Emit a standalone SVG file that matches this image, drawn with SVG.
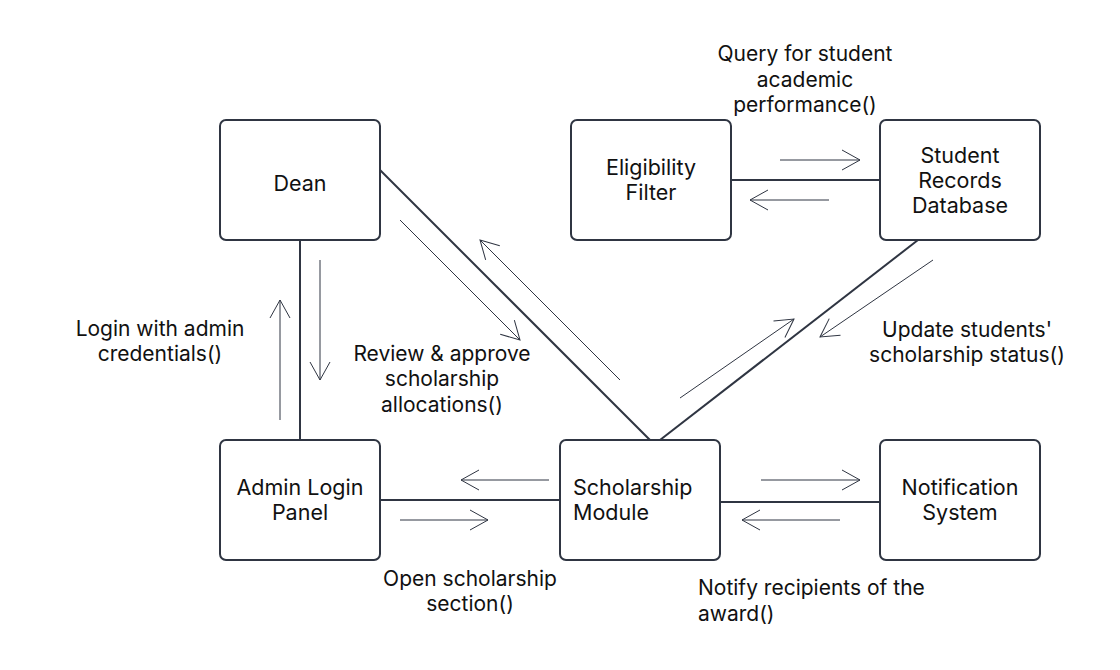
<svg xmlns="http://www.w3.org/2000/svg" width="1120" height="670" viewBox="0 0 1120 670">
<style>
.node rect{fill:#fff;stroke:#2f3542;stroke-width:2}
.nt{font-family:Inter,"Liberation Sans",sans-serif;font-size:21.5px;fill:#111;text-anchor:middle}
.lb{font-family:Inter,"Liberation Sans",sans-serif;font-size:21px;fill:#111;text-anchor:middle}
.conn{stroke:#2f3542;stroke-width:2;fill:none}
.arr{stroke:#2f3542;stroke-width:1;fill:none;marker-end:url(#ah)}
</style>
<defs>
<marker id="ah" markerUnits="userSpaceOnUse" markerWidth="20" markerHeight="22" viewBox="0 0 20 22" refX="19" refY="11" orient="auto">
<path d="M1,1 L19,11 L1,21" fill="none" stroke="#2f3542" stroke-width="1"/>
</marker>
</defs>
<rect width="1120" height="670" fill="#fff"/>
<g id="connectors">
<line class="conn" x1="300" y1="240" x2="300" y2="440"/>
<line class="arr" x1="280" y1="420" x2="280" y2="300"/>
<line class="arr" x1="320" y1="260" x2="320" y2="380"/>
<line class="conn" x1="380" y1="170" x2="650" y2="440"/>
<line class="arr" x1="400" y1="220" x2="520" y2="340"/>
<line class="arr" x1="620" y1="380" x2="480" y2="240"/>
<line class="conn" x1="660" y1="440" x2="918" y2="240"/>
<line class="arr" x1="680" y1="398" x2="794" y2="319"/>
<line class="arr" x1="933" y1="260" x2="820" y2="337"/>
<line class="conn" x1="731" y1="180" x2="880" y2="180"/>
<line class="arr" x1="780" y1="160" x2="860" y2="160"/>
<line class="arr" x1="829" y1="200" x2="750" y2="200"/>
<line class="conn" x1="380" y1="500" x2="560" y2="500"/>
<line class="arr" x1="549" y1="480" x2="461" y2="480"/>
<line class="arr" x1="400" y1="520" x2="488" y2="520"/>
<line class="conn" x1="720" y1="502" x2="880" y2="502"/>
<line class="arr" x1="761" y1="480" x2="860" y2="480"/>
<line class="arr" x1="840" y1="520" x2="742" y2="520"/>
</g>
<g id="dean" class="node"><rect x="220" y="120" width="160" height="120" rx="6"/><text class="nt" x="300" y="191">Dean</text></g>
<g id="eligibility" class="node"><rect x="571" y="120" width="160" height="120" rx="6"/><text class="nt" x="651" y="175">Eligibility</text><text class="nt" x="651" y="200">Filter</text></g>
<g id="records" class="node"><rect x="880" y="120" width="160" height="120" rx="6"/><text class="nt" x="960" y="163">Student</text><text class="nt" x="960" y="188">Records</text><text class="nt" x="960" y="213">Database</text></g>
<g id="admin" class="node"><rect x="220" y="440" width="160" height="120" rx="6"/><text class="nt" x="300" y="495">Admin Login</text><text class="nt" x="300" y="520">Panel</text></g>
<g id="scholarship" class="node"><rect x="560" y="440" width="160" height="120" rx="6"/><text class="nt" x="573" y="495" style="text-anchor:start">Scholarship</text><text class="nt" x="573" y="520" style="text-anchor:start">Module</text></g>
<g id="notification" class="node"><rect x="880" y="440" width="160" height="120" rx="6"/><text class="nt" x="960" y="495">Notification</text><text class="nt" x="960" y="520">System</text></g>
<g id="labels">
<text class="lb" x="805" y="61">Query for student</text>
<text class="lb" x="805" y="87">academic</text>
<text class="lb" x="805" y="112">performance()</text>
<text class="lb" x="160" y="336">Login with admin</text>
<text class="lb" x="160" y="361">credentials()</text>
<text class="lb" x="442" y="361">Review &amp; approve</text>
<text class="lb" x="442" y="386">scholarship</text>
<text class="lb" x="442" y="412">allocations()</text>
<text class="lb" x="967" y="337">Update students'</text>
<text class="lb" x="967" y="362">scholarship status()</text>
<text class="lb" x="470" y="586">Open scholarship</text>
<text class="lb" x="470" y="611">section()</text>
<text class="lb" x="698" y="595" style="text-anchor:start">Notify recipients of the</text>
<text class="lb" x="698" y="621" style="text-anchor:start">award()</text>
</g>
</svg>
